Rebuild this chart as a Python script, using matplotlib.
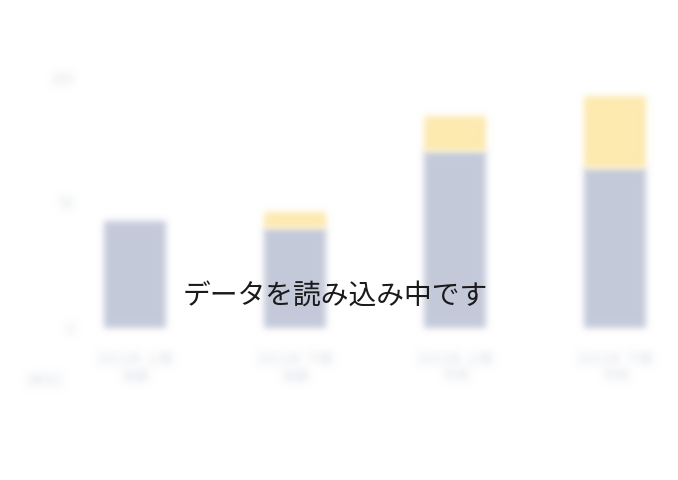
import numpy as np
import matplotlib
matplotlib.use('Agg')
import matplotlib.pyplot as plt

plt.rcParams['font.family'] = ['Noto Sans CJK JP', 'DejaVu Sans']

# データ（ぼかした背景のグラフ）
categories = ['2021年 上期\n実績', '2021年 下期\n実績', '2022年 上期\n予測', '2022年 下期\n予測']
base_values = [43, 40, 71, 64]
extra_values = [0, 6.5, 14, 29]
y_ticks = [0, 50, 100]
y_tick_labels = ['0', '50', '100']
unit_label = '(単位)'
loading_text = 'データを読み込み中です'


# ガウスぼかし用の agg_filter
def gauss_blur(sigma):
    def f(im, dpi):
        r = int(3 * sigma) + 1
        h, w, _ = im.shape
        buf = np.zeros((h + 2 * r, w + 2 * r, 4))
        buf[r:r + h, r:r + w] = im
        buf[..., :3] *= buf[..., 3:4]
        xs = np.arange(-r, r + 1)
        k = np.exp(-xs ** 2 / (2.0 * sigma ** 2))
        k /= k.sum()
        for axis in (0, 1):
            acc = np.zeros_like(buf)
            for s, kv in zip(xs, k):
                acc += kv * np.roll(buf, s, axis=axis)
            buf = acc
        a = buf[..., 3:4]
        rgb = np.where(a > 1e-6, buf[..., :3] / np.maximum(a, 1e-6), 0)
        return np.concatenate([np.clip(rgb, 0, 1), np.clip(a, 0, 1)], axis=-1), -r, -r
    return f


W, H = 678, 480
fig = plt.figure(figsize=(W / 100, H / 100), dpi=100)
fig.patch.set_facecolor('white')

left, right = 85, 668
bottom, top = 328, 53
ax = fig.add_axes([left / W, 1 - bottom / H, (right - left) / W, (bottom - top) / H])

x = np.arange(len(categories))
b1 = ax.bar(x, base_values, width=0.39, color='#c5cadb', zorder=2)
b2 = ax.bar(x, extra_values, width=0.39, bottom=base_values, color='#fdeab0', zorder=2)
for p in list(b1) + list(b2):
    p.set_agg_filter(gauss_blur(3.3))

ax.set_xlim(-0.3125, 3.33)
ax.set_ylim(0, 110)
ax.set_yticks(y_ticks)
ax.set_yticklabels(y_tick_labels)
ax.set_xticks(x)
ax.set_xticklabels(categories)
ax.tick_params(axis='both', length=0, labelsize=10, colors='#dcdfe7')
ax.tick_params(axis='y', pad=8)
ax.tick_params(axis='x', pad=18)
for s in ax.spines.values():
    s.set_visible(False)

for lbl in ax.get_xticklabels() + ax.get_yticklabels():
    lbl.set_agg_filter(gauss_blur(4.0))

t = fig.text(45 / W, 1 - 380 / H, unit_label, ha='center', va='center',
             fontsize=10, color='#dcdfe7')
t.set_agg_filter(gauss_blur(4.0))

fig.text(335 / W, 1 - 297 / H, loading_text, ha='center', va='center',
         fontsize=20, color='#1a1a1a')

fig.savefig('out.png', dpi=100)
